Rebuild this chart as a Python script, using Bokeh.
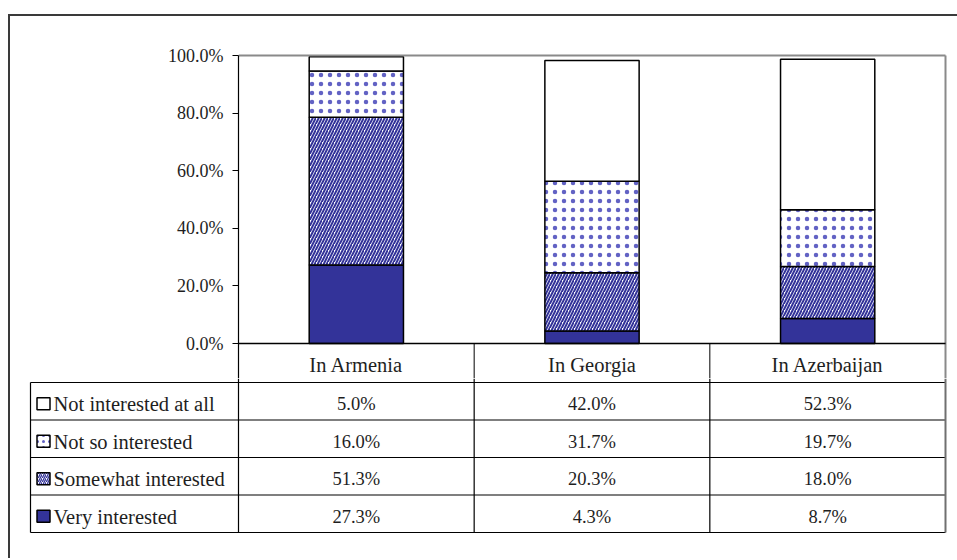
from bokeh.plotting import figure
from bokeh.models import Range1d, FixedTicker, PrintfTickFormatter, ColumnDataSource
from bokeh.layouts import column
from bokeh.core.properties import value
from bokeh.embed import file_html
from bokeh.resources import INLINE

# ---------------- data ----------------
countries = ["In Armenia", "In Georgia", "In Azerbaijan"]
series_names = ["Very interested", "Somewhat interested", "Not so interested", "Not interested at all"]
very_interested = [27.3, 4.3, 8.7]
somewhat_interested = [51.3, 20.3, 18.0]
not_so_interested = [16.0, 31.7, 19.7]
not_interested_at_all = [5.0, 42.0, 52.3]
y_ticks = [0, 20, 40, 60, 80, 100]

# ---------------- styles ----------------
FONT = "Liberation Serif"
TXT = "#1e1e1e"
BLUE = "#333399"
fills = [BLUE, "white", "white", "white"]
hatches = [None, "/", ".", None]
hatch_colors = [BLUE, BLUE, "#6262c4", BLUE]
hatch_scales = [6, 6, 9, 6]
hatch_weights = [1, 2.0, 1.1, 1]

# page geometry helpers (page pixels)
X0, Y0 = 10, 16            # content origin inside outer frame
W = 947
PX = (945 - 238) / 3.0     # px per category
PY = (343 - 55) / 100.0    # px per percent

# ---------------- top chart ----------------
y_bot = -(378 - 343) / PY
p1 = figure(width=W, height=378 - Y0,
            x_range=Range1d(0, 3 + 2 / PX), y_range=Range1d(y_bot, 100 + 2 / PY),
            output_backend="svg", toolbar_location=None,
            x_axis_location=None,
            min_border_left=238 - X0, min_border_right=W - (947 - X0),
            min_border_top=53 - Y0, min_border_bottom=0)
p1.frame_align = False
p1.outline_line_color = None
p1.xgrid.grid_line_color = None
p1.ygrid.grid_line_color = None
p1.background_fill_color = "white"

ax = p1.yaxis[0]
ax.ticker = FixedTicker(ticks=y_ticks)
ax.formatter = PrintfTickFormatter(format="%.1f%%")
ax.bounds = (y_bot, 100)
ax.major_tick_in = 0
ax.major_tick_out = 6
ax.minor_tick_in = 0
ax.minor_tick_out = 0
ax.axis_line_color = "black"
ax.axis_line_width = 1.2
ax.major_tick_line_color = "black"
ax.major_label_text_font = FONT
ax.major_label_text_font_size = "18px"
ax.major_label_text_color = TXT
ax.major_label_standoff = 9

xc = [i + 0.5 for i in range(len(countries))]
src = ColumnDataSource(dict(x=xc, very=very_interested, somewhat=somewhat_interested,
                            notso=not_so_interested, notatall=not_interested_at_all))
keys = ["very", "somewhat", "notso", "notatall"]
p1.vbar_stack(keys, x="x", width=0.4, source=src,
              fill_color=fills, line_color="black", line_width=1.5,
              hatch_pattern=hatches, hatch_color=hatch_colors,
              hatch_scale=hatch_scales, hatch_weight=hatch_weights)

# plot area border (top / right) and table header lines
p1.segment(x0=[0, 3], y0=[100, y_bot], x1=[3, 3], y1=[100, 100], line_color="#8a8a8a", line_width=2)
p1.segment(x0=[0], y0=[0], x1=[3], y1=[0], line_color="black", line_width=1.5)
p1.segment(x0=[1, 2], y0=[y_bot, y_bot], x1=[1, 2], y1=[0, 0], line_color="black", line_width=1)
p1.text(x=xc, y=[-(362.5 - 343) / PY] * 3, text=countries, text_align="center",
        text_baseline="middle", y_offset=2, text_font=value(FONT), text_font_size="20.5px",
        text_color=TXT)

# ---------------- table ----------------
RY = (532 - 382) / 4.0
xL = -(238 - 30) / PX
y_top = 4 + (382 - 378) / RY
H2 = 180
p2 = figure(width=W, height=H2,
            x_range=Range1d(-(238 - 28) / PX, 3 + 2 / PX), y_range=Range1d(-2 / RY, y_top),
            output_backend="svg", toolbar_location=None,
            x_axis_location=None, y_axis_location=None,
            min_border_left=28 - X0, min_border_right=W - (947 - X0),
            min_border_top=0, min_border_bottom=H2 - (534 - 378))
p2.frame_align = False
p2.outline_line_color = None
p2.xgrid.grid_line_color = None
p2.ygrid.grid_line_color = None

# horizontal lines
p2.segment(x0=[xL] * 5, y0=[0, 1, 2, 3, 4], x1=[3] * 5, y1=[0, 1, 2, 3, 4],
           line_color="black", line_width=1.2)
# vertical lines
p2.segment(x0=[xL], y0=[0], x1=[xL], y1=[4], line_color="black", line_width=1.2)
p2.segment(x0=[0, 1, 2], y0=[0, 0, 0], x1=[0, 1, 2], y1=[y_top] * 3, line_color="black", line_width=1.2)
p2.segment(x0=[3], y0=[0], x1=[3], y1=[y_top], line_color="#707070", line_width=2)

# rows: bottom row = first series
rows = list(range(len(series_names)))
row_y = [r + 0.5 for r in rows]
all_vals = [very_interested, somewhat_interested, not_so_interested, not_interested_at_all]

sw_x = xL + (43 - 30) / PX
for r, name in enumerate(series_names):
    p2.rect(x=[sw_x], y=[row_y[r] - 2.5 / RY], width=13, height=12,
            width_units="screen", height_units="screen",
            fill_color=fills[r], line_color="black", line_width=1.5,
            hatch_pattern=hatches[r], hatch_color=hatch_colors[r],
            hatch_scale=4 if hatches[r] == "/" else 6, hatch_weight=1.3)

p2.text(x=[xL + (53 - 30) / PX] * 4, y=row_y, text=series_names, text_align="left",
        text_baseline="middle", y_offset=3, text_font=value(FONT), text_font_size="20.5px",
        text_color=TXT)

vx, vy, vt = [], [], []
for r, vals in enumerate(all_vals):
    for c, v in enumerate(vals):
        vx.append(xc[c])
        vy.append(row_y[r])
        vt.append("%.1f%%" % v)
p2.text(x=vx, y=vy, text=vt, text_align="center", text_baseline="middle", y_offset=3,
        text_font=value(FONT), text_font_size="18.5px", text_color=TXT)

layout = column(p1, p2, spacing=0,
                styles={"border-left": "2px solid #3a3a3a", "border-top": "2px solid #3a3a3a",
                        "margin-top": "14px", "margin-left": "8px"})

open("out.html", "w").write(file_html(layout, INLINE))
